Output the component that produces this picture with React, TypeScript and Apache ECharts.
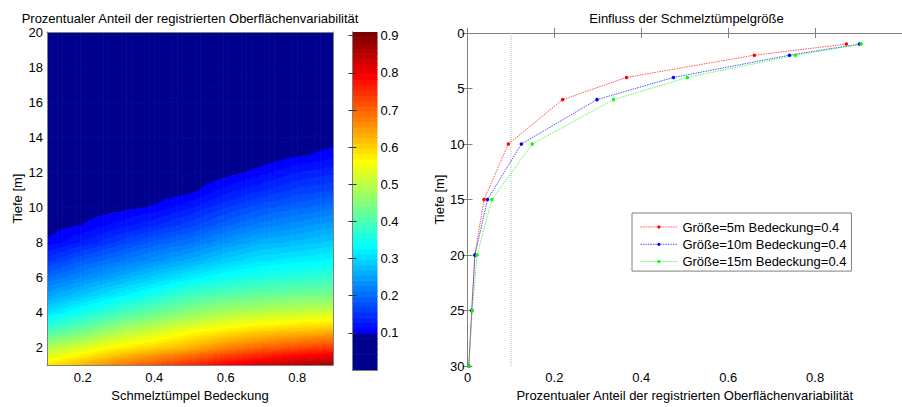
import React, { useEffect, useRef } from 'react';
import * as echarts from 'echarts';

const FONT = '"Liberation Sans", Arial, Helvetica, sans-serif';

// ---------- Left chart: heat map (coverage x depth) ----------
const COVERAGE = [0.1, 0.2, 0.3, 0.4, 0.5, 0.6, 0.7, 0.8, 0.9];
const DEPTH_GRID = [1, 2, 3, 4, 5, 6, 7, 8, 9, 10, 11, 12, 13, 14, 15, 16, 18, 20];
// rows = DEPTH_GRID, columns = COVERAGE
const VARIABILITY: number[][] = [
  [0.58, 0.63, 0.68, 0.72, 0.76, 0.80, 0.83, 0.86, 0.88],
  [0.49, 0.53, 0.57, 0.60, 0.63, 0.67, 0.70, 0.72, 0.74],
  [0.39, 0.43, 0.48, 0.515, 0.55, 0.575, 0.595, 0.61, 0.62],
  [0.31, 0.35, 0.39, 0.425, 0.46, 0.485, 0.50, 0.51, 0.52],
  [0.25, 0.285, 0.32, 0.355, 0.39, 0.41, 0.425, 0.435, 0.44],
  [0.20, 0.23, 0.26, 0.29, 0.32, 0.345, 0.36, 0.37, 0.38],
  [0.15, 0.185, 0.21, 0.235, 0.26, 0.29, 0.31, 0.32, 0.33],
  [0.102, 0.13, 0.16, 0.19, 0.21, 0.24, 0.265, 0.275, 0.29],
  [0.09, 0.1, 0.12, 0.14, 0.165, 0.195, 0.22, 0.235, 0.25],
  [0.082, 0.088, 0.092, 0.102, 0.125, 0.155, 0.18, 0.195, 0.21],
  [0.076, 0.08, 0.085, 0.087, 0.092, 0.12, 0.14, 0.16, 0.17],
  [0.071, 0.074, 0.078, 0.081, 0.084, 0.091, 0.107, 0.127, 0.138],
  [0.066, 0.069, 0.072, 0.075, 0.078, 0.083, 0.086, 0.096, 0.108],
  [0.061, 0.063, 0.066, 0.068, 0.071, 0.075, 0.079, 0.085, 0.088],
  [0.056, 0.058, 0.06, 0.062, 0.065, 0.068, 0.071, 0.075, 0.08],
  [0.052, 0.054, 0.056, 0.057, 0.059, 0.062, 0.065, 0.068, 0.071],
  [0.045, 0.047, 0.048, 0.049, 0.051, 0.053, 0.055, 0.057, 0.059],
  [0.038, 0.04, 0.041, 0.042, 0.044, 0.045, 0.047, 0.049, 0.05],
];
const HEAT_X_TICKS = [0.2, 0.4, 0.6, 0.8];
const HEAT_Y_TICKS = [2, 4, 6, 8, 10, 12, 14, 16, 18, 20];
const CBAR_TICKS = [0.1, 0.2, 0.3, 0.4, 0.5, 0.6, 0.7, 0.8, 0.9];

// ---------- Right chart: depth profiles ----------
const PROFILE_DEPTH = [1, 2, 4, 6, 10, 15, 20, 25, 30];
const SIZE_5M = [0.872, 0.66, 0.366, 0.219, 0.094, 0.038, 0.017, 0.0095, 0.003];
const SIZE_10M = [0.902, 0.741, 0.474, 0.298, 0.124, 0.046, 0.017, 0.01, 0.003];
const SIZE_15M = [0.906, 0.755, 0.506, 0.336, 0.149, 0.056, 0.022, 0.011, 0.003];
const SERIES_NAMES = [
  'Größe=5m Bedeckung=0.4',
  'Größe=10m Bedeckung=0.4',
  'Größe=15m Bedeckung=0.4',
];
const SERIES_COLORS = ['#ff0000', '#0000ff', '#00ff00'];
const THRESHOLD = 0.1;
const PROFILE_X_LABELS = [0, 0.2, 0.4, 0.6, 0.8];

const TITLE_LEFT = 'Prozentualer Anteil der registrierten Oberflächenvariabilität';
const TITLE_RIGHT = 'Einfluss der Schmelztümpelgröße';
const X_NAME_LEFT = 'Schmelztümpel Bedeckung';
const X_NAME_RIGHT = 'Prozentualer Anteil der registrierten Oberflächenvariabilität';
const Y_NAME = 'Tiefe [m]';

// ---------- colour map (jet, 64 levels, lowest levels dark) ----------
const C_MIN = 0;
const C_MAX = 0.91;
const N_LEVELS = 64;
const NAVY_LEVELS = 7;

function jetRGB(R: number): string {
  const u = (k: number) => (k < 1 || k > 47 ? 0 : k <= 16 ? k / 16 : k <= 31 ? 1 : (48 - k) / 16);
  let r = u(R - 24);
  let g = u(R - 8);
  let b = u(R + 8);
  if (R <= NAVY_LEVELS) {
    r = 0;
    g = 0;
    b = 0.5625;
  }
  return `rgb(${Math.round(r * 255)},${Math.round(g * 255)},${Math.round(b * 255)})`;
}
const COLORS: string[] = [''];
for (let R = 1; R <= N_LEVELS; R++) COLORS.push(jetRGB(R));

function levelOf(v: number): number {
  const l = Math.floor(((v - C_MIN) / (C_MAX - C_MIN)) * N_LEVELS) + 1;
  return Math.max(1, Math.min(N_LEVELS, l));
}

function buildCells() {
  const cells: number[][] = [];
  for (let j = 0; j < DEPTH_GRID.length - 1; j++) {
    for (let i = 0; i < COVERAGE.length - 1; i++) {
      cells.push([
        COVERAGE[i], DEPTH_GRID[j], COVERAGE[i + 1], DEPTH_GRID[j + 1],
        VARIABILITY[j][i], VARIABILITY[j][i + 1], VARIABILITY[j + 1][i], VARIABILITY[j + 1][i + 1],
      ]);
    }
  }
  return cells;
}

function buildOption(): any {
  const axisGray = '#808080';
  const labelStyle = { fontSize: 13, fontFamily: FONT, color: '#000' };
  const nameStyle = { fontSize: 13, fontFamily: FONT, color: '#000' };
  const lineOnlyX = (grid: number, pos: string, min: number, max: number) => ({
    type: 'value', gridIndex: grid, position: pos, min, max, z: 10,
    axisLine: { show: true, lineStyle: { color: axisGray, width: 1 } },
    axisTick: { show: false }, axisLabel: { show: false }, splitLine: { show: false },
  });

  const cbarData = [];
  for (let R = 1; R <= N_LEVELS; R++) {
    cbarData.push([C_MIN + ((R - 1) / N_LEVELS) * (C_MAX - C_MIN), C_MIN + (R / N_LEVELS) * (C_MAX - C_MIN), R]);
  }

  const profiles = [SIZE_5M, SIZE_10M, SIZE_15M];

  return {
    animation: false,
    backgroundColor: '#ffffff',
    textStyle: { fontFamily: FONT },
    graphic: [
      {
        type: 'text', x: 190, y: 18, silent: true,
        style: { text: TITLE_LEFT, fill: '#000', fontSize: 13, fontFamily: FONT, textAlign: 'center', textVerticalAlign: 'middle' },
      },
      {
        type: 'text', x: 686.5, y: 18, silent: true,
        style: { text: TITLE_RIGHT, fill: '#000', fontSize: 13, fontFamily: FONT, textAlign: 'center', textVerticalAlign: 'middle' },
      },
    ],
    grid: [
      { left: 47, top: 32, width: 286, height: 338 },
      { left: 352.5, top: 32, width: 25, height: 338 },
      { left: 467.5, top: 33, width: 438, height: 338.5 },
    ],
    xAxis: [
      {
        type: 'value', gridIndex: 0, position: 'bottom', min: 0.1, max: 0.9, z: 10,
        name: X_NAME_LEFT, nameLocation: 'middle', nameGap: 22, nameTextStyle: nameStyle,
        axisLine: { show: true, lineStyle: { color: axisGray, width: 1 } },
        axisTick: { show: false },
        axisLabel: { ...labelStyle, margin: 6, customValues: HEAT_X_TICKS },
        splitLine: { show: false },
      },
      lineOnlyX(0, 'top', 0.1, 0.9),
      lineOnlyX(1, 'bottom', 0, 1),
      lineOnlyX(1, 'top', 0, 1),
      {
        type: 'value', gridIndex: 2, position: 'bottom', min: 0, max: 1, interval: 0.2,
        name: X_NAME_RIGHT, nameLocation: 'middle', nameGap: 22, nameTextStyle: nameStyle,
        axisLine: { show: true, lineStyle: { color: axisGray, width: 1 } },
        axisTick: { show: true, inside: true, length: 5, lineStyle: { color: axisGray } },
        axisLabel: { ...labelStyle, margin: 5, customValues: PROFILE_X_LABELS },
        splitLine: { show: false },
      },
      {
        type: 'value', gridIndex: 2, position: 'top', min: 0, max: 1, interval: 0.2,
        axisLine: { show: true, lineStyle: { color: axisGray, width: 1 } },
        axisTick: { show: true, inside: true, length: 5, lineStyle: { color: axisGray } },
        axisLabel: { show: false }, splitLine: { show: false },
      },
    ],
    yAxis: [
      {
        type: 'value', gridIndex: 0, position: 'left', min: 1, max: 20, z: 10,
        name: Y_NAME, nameLocation: 'middle', nameGap: 23, nameRotate: 90, nameTextStyle: nameStyle,
        axisLine: { show: true, lineStyle: { color: axisGray, width: 1 } },
        axisTick: { show: false },
        axisLabel: { ...labelStyle, margin: 4, customValues: HEAT_Y_TICKS },
        splitLine: { show: false },
      },
      {
        type: 'value', gridIndex: 0, position: 'right', min: 1, max: 20, z: 10,
        axisLine: { show: true, lineStyle: { color: axisGray, width: 1 } },
        axisTick: { show: false }, axisLabel: { show: false }, splitLine: { show: false },
      },
      {
        type: 'value', gridIndex: 1, position: 'left', min: C_MIN, max: C_MAX, z: 10,
        axisLine: { show: true, lineStyle: { color: axisGray, width: 1 } },
        axisTick: { show: true, inside: true, length: 4, customValues: CBAR_TICKS, lineStyle: { color: '#333' } },
        axisLabel: { show: false }, splitLine: { show: false },
      },
      {
        type: 'value', gridIndex: 1, position: 'right', min: C_MIN, max: C_MAX, z: 10,
        axisLine: { show: true, lineStyle: { color: axisGray, width: 1 } },
        axisTick: { show: true, inside: true, length: 4, customValues: CBAR_TICKS, lineStyle: { color: '#333' } },
        axisLabel: { ...labelStyle, margin: 3, customValues: CBAR_TICKS },
        splitLine: { show: false },
      },
      {
        type: 'value', gridIndex: 2, position: 'left', min: 0, max: 30, interval: 5, inverse: true,
        name: Y_NAME, nameLocation: 'middle', nameGap: 21, nameRotate: 90, nameTextStyle: nameStyle,
        axisLine: { show: true, lineStyle: { color: axisGray, width: 1 } },
        axisTick: { show: true, inside: true, length: 5, lineStyle: { color: axisGray } },
        axisLabel: { ...labelStyle, margin: 3 },
        splitLine: { show: false },
      },
      {
        type: 'value', gridIndex: 2, position: 'right', min: 0, max: 30, interval: 5, inverse: true,
        axisLine: { show: true, lineStyle: { color: axisGray, width: 1 } },
        axisTick: { show: true, inside: true, length: 5, lineStyle: { color: axisGray } },
        axisLabel: { show: false }, splitLine: { show: false },
      },
    ],
    legend: {
      data: SERIES_NAMES,
      orient: 'vertical',
      left: 632, top: 213,
      itemWidth: 37, itemHeight: 4, itemGap: 4.3,
      padding: [7.5, 5, 3, 8],
      borderColor: '#808080', borderWidth: 1, backgroundColor: '#ffffff',
      textStyle: { fontSize: 13, fontFamily: FONT, color: '#000' },
      lineStyle: { width: 0.8 },
      selectedMode: false,
    },
    series: [
      {
        type: 'custom', name: 'heat', xAxisIndex: 0, yAxisIndex: 0, silent: true, clip: true,
        data: buildCells(),
        encode: { x: [0, 2], y: [1, 3] },
        renderItem: (_params: any, api: any) => {
          const x0 = api.value(0), y0 = api.value(1), x1 = api.value(2), y1 = api.value(3);
          const v00 = api.value(4), v10 = api.value(5), v01 = api.value(6), v11 = api.value(7);
          const pA = api.coord([x0, y0]);
          const pB = api.coord([x1, y1]);
          const left = pA[0], top = pB[1];
          const w = pB[0] - pA[0], h = pA[1] - pB[1];
          const nx = Math.max(1, Math.round(w / 2.5));
          const ny = Math.max(1, Math.round(h));
          const children: any[] = [];
          for (let ix = 0; ix < nx; ix++) {
            const fx = (ix + 0.5) / nx;
            const vb = v00 + (v10 - v00) * fx;
            const vt = v01 + (v11 - v01) * fx;
            const sx = left + (w * ix) / nx;
            const sw = w / nx;
            let start = 0;
            let lvl = levelOf(vt + (vb - vt) * (0.5 / ny));
            for (let iy = 1; iy <= ny; iy++) {
              const l = iy < ny ? levelOf(vt + (vb - vt) * ((iy + 0.5) / ny)) : -1;
              if (l !== lvl) {
                children.push({
                  type: 'rect',
                  shape: { x: sx, y: top + (h * start) / ny, width: sw + 0.6, height: (h * (iy - start)) / ny + 0.6 },
                  style: { fill: COLORS[lvl] },
                });
                start = iy;
                lvl = l;
              }
            }
          }
          return { type: 'group', children };
        },
      },
      {
        type: 'custom', name: 'cbar', xAxisIndex: 2, yAxisIndex: 2, silent: true,
        data: cbarData,
        encode: { y: [0, 1] },
        renderItem: (_params: any, api: any) => {
          const lo = api.value(0), hi = api.value(1), R = api.value(2);
          const pA = api.coord([0, lo]);
          const pB = api.coord([1, hi]);
          return {
            type: 'rect',
            shape: { x: pA[0], y: pB[1], width: pB[0] - pA[0], height: pA[1] - pB[1] + 0.6 },
            style: { fill: COLORS[R] },
          };
        },
      },
      {
        type: 'line', name: 'threshold', xAxisIndex: 4, yAxisIndex: 4, silent: true,
        data: [[THRESHOLD, 0], [THRESHOLD, 30]],
        symbol: 'none',
        lineStyle: { color: '#b4b4b4', width: 1, type: 'dotted' },
      },
      ...profiles.map((vals, k) => ({
        type: 'line', name: SERIES_NAMES[k], xAxisIndex: 4, yAxisIndex: 4,
        data: PROFILE_DEPTH.map((d, i) => [vals[i], d]),
        symbol: 'circle', symbolSize: 3.5, showSymbol: true,
        lineStyle: { color: SERIES_COLORS[k], width: 0.8, type: [1.5, 1], opacity: 0.85 },
        itemStyle: { color: SERIES_COLORS[k] },
        emphasis: { disabled: true },
      })),
    ],
  };
}

export default function App() {
  const ref = useRef<HTMLDivElement>(null);
  useEffect(() => {
    if (!ref.current) return;
    const chart = echarts.init(ref.current, null, { renderer: 'svg' });
    chart.setOption(buildOption());
    return () => chart.dispose();
  }, []);
  return (
    <div
      ref={ref}
      style={{ position: 'absolute', left: 0, top: 0, width: 902, height: 407, background: '#ffffff' }}
    />
  );
}
